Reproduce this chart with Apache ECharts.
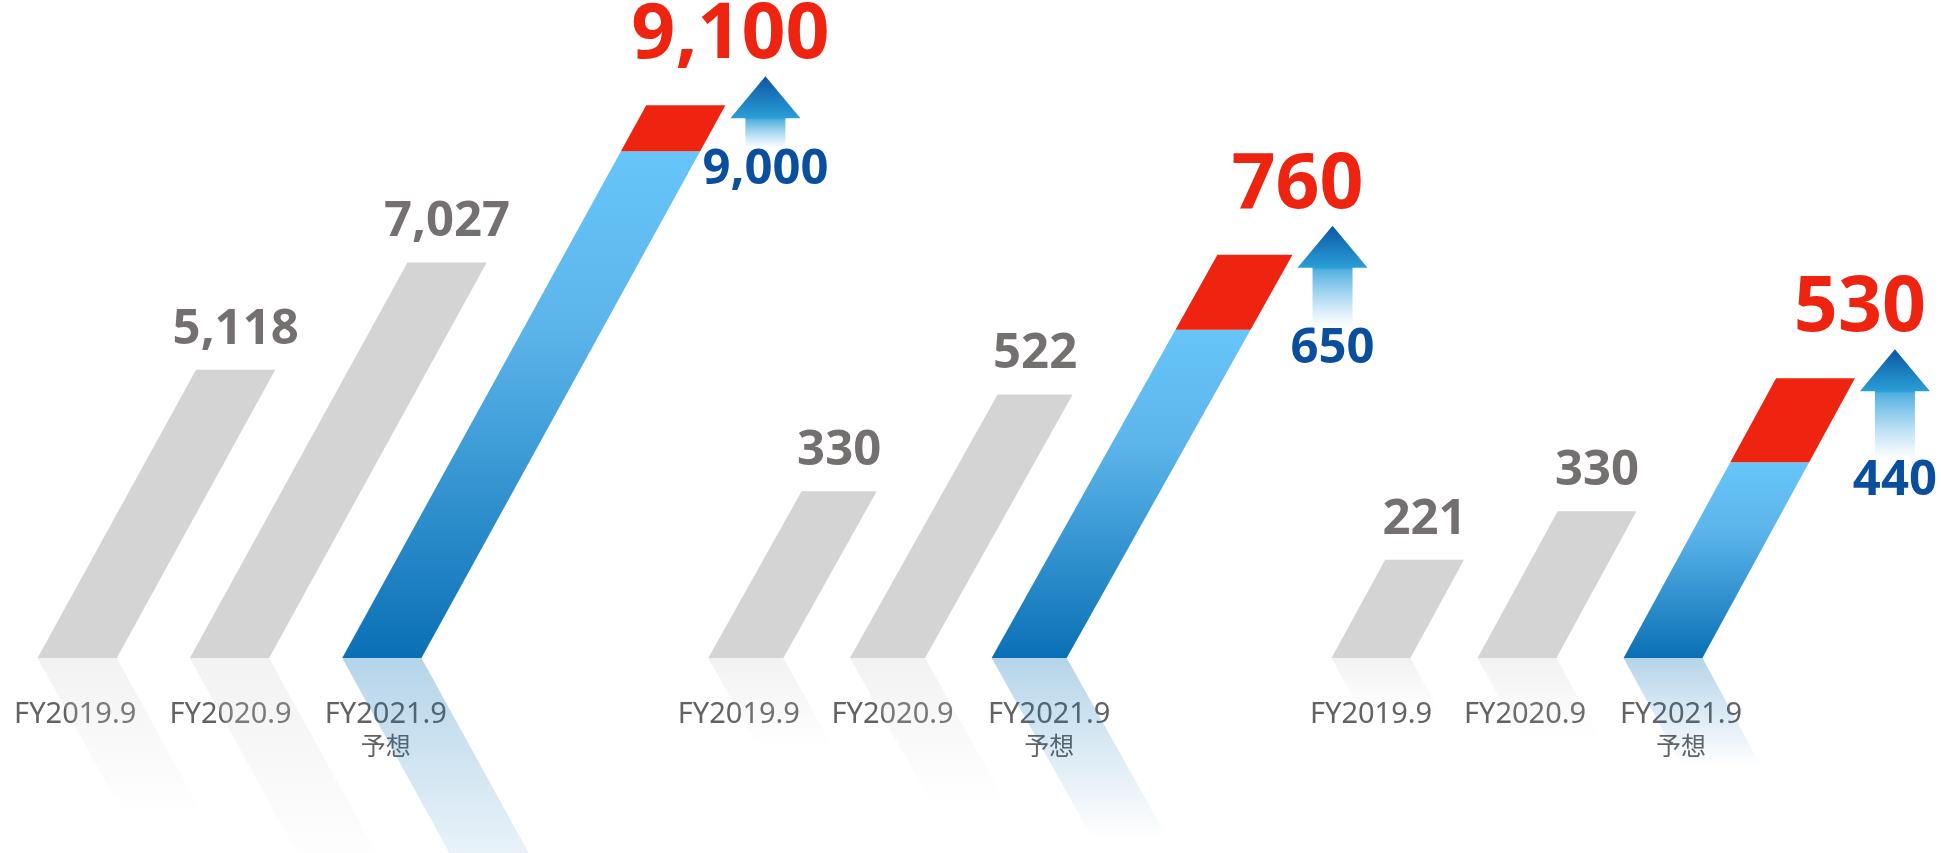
<!DOCTYPE html>
<html>
<head>
<meta charset="utf-8">
<title>業績推移</title>
<script src="https://cdn.jsdelivr.net/npm/echarts@6/dist/echarts.min.js"></script>
<style>
  html, body { margin: 0; padding: 0; background: #fff; }
  #chart { width: 1941px; height: 853px; }
</style>
</head>
<body>
<div id="chart"></div>
<script>
// 決算期
var categories = ['FY2019.9', 'FY2020.9', 'FY2021.9'];
var forecastNote = '予想';

// 左: 実績2期 + 期初計画, 予想
var sales = [5118, 7027, 9000];
var salesForecast = 9100;
// 中央
var profit = [330, 522, 650];
var profitForecast = 760;
// 右
var netProfit = [221, 330, 440];
var netForecast = 530;

var FONT = "'Noto Sans', 'Noto Sans CJK JP', sans-serif";

var fmt = function (v) {
    return v.toLocaleString('en-US');
};

// パネルごとの配置 (見た目だけ)
var panels = [
    { values: sales, forecast: salesForecast, max: 10000, slant: 0.55, cap: 46, barW: 0.52,
      labelShift: [-2, 1, 4],
      grid: { left: 1, width: 457, top: 95, bottom: 195 } },
    { values: profit, forecast: profitForecast, max: 1000, slant: 0.56, cap: 75, barW: 0.53,
      labelShift: [-7, 5, 20],
      grid: { left: 675, width: 425, top: 153, bottom: 195 } },
    { values: netProfit, forecast: netForecast, max: 1000, slant: 0.545, cap: 84, barW: 0.54,
      labelShift: [0, 8, 18],
      grid: { left: 1298, width: 438, top: 213, bottom: 195 } }
];

var grad = function (stops) {
    return new echarts.graphic.LinearGradient(0, 0, 0, 1, stops.map(function (s) {
        return { offset: s[0], color: s[1] };
    }));
};

var makeRender = function (panel) {
    return function (params, api) {
        var i = api.value(0);
        var v = api.value(1);
        var base = api.coord([i, 0]);
        var top = api.coord([i, v]);
        var w = api.size([1, 0])[0] * panel.barW;
        var h = base[1] - top[1];
        var s = panel.slant;
        var x0 = base[0] - w / 2;
        var y0 = base[1];
        var isFc = i === panel.values.length - 1;
        var children = [];

        // 反射
        var rh = h * 0.55;
        var rc = isFc ? '10,114,184' : '212,212,212';
        children.push({
            type: 'polygon',
            shape: { points: [[x0, y0], [x0 + w, y0], [x0 + w + rh * s, y0 + rh], [x0 + rh * s, y0 + rh]] },
            style: { fill: grad([[0, 'rgba(' + rc + ',0.3)'], [1, 'rgba(' + rc + ',0)']]) }
        });

        var tl = [x0 + h * s, top[1]];
        var tr = [x0 + w + h * s, top[1]];
        children.push({
            type: 'polygon',
            shape: { points: [[x0, y0], [x0 + w, y0], tr, tl] },
            style: { fill: isFc ? grad([[0, '#67c5f9'], [0.35, '#5cb5ea'], [1, '#0a70b5']]) : '#d4d4d4' }
        });

        if (!isFc) {
            children.push({
                type: 'text',
                style: {
                    text: fmt(v), x: (tl[0] + tr[0]) / 2, y: top[1] - 40,
                    align: 'center', verticalAlign: 'middle',
                    font: 'bold 49px ' + FONT, fill: '#757070'
                }
            });
            return { type: 'group', children: children };
        }

        // 予想の上乗せ分
        var c = panel.cap;
        var redTop = top[1] - c;
        children.push({
            type: 'polygon',
            shape: { points: [tl, tr, [tr[0] + c * s, redTop], [tl[0] + c * s, redTop]] },
            style: { fill: '#ee2310' }
        });

        // 矢印
        var ax = tr[0] + c * s + 40;
        var tipY = redTop - 29;
        var headY = redTop + 13;
        var botY = top[1] - 3;
        var f = (headY - tipY) / (botY - tipY);
        children.push({
            type: 'polygon',
            shape: { points: [[ax, tipY], [ax + 35, headY], [ax + 20, headY], [ax + 20, botY],
                              [ax - 20, botY], [ax - 20, headY], [ax - 35, headY]] },
            style: { fill: grad([[0, '#0c56a4'], [f, '#2a9fd6'], [f + 0.02, '#52b0e0'], [1, 'rgba(120,195,235,0)']]) }
        });

        children.push({
            type: 'text',
            style: {
                text: fmt(panel.forecast), x: ax - 35, y: redTop - 69,
                align: 'center', verticalAlign: 'middle',
                font: 'bold 77px ' + FONT, fill: '#ee2310'
            }
        });
        children.push({
            type: 'text',
            style: {
                text: fmt(v), x: ax, y: top[1] + 19,
                align: 'center', verticalAlign: 'middle',
                font: 'bold 49px ' + FONT, fill: '#0a4f9e'
            }
        });
        return { type: 'group', children: children };
    };
};

// 軸ラベルの位置ずらし用 rich スタイル
var labelRich = function (shifts) {
    var rich = {};
    shifts.forEach(function (d, k) {
        var pad = d >= 0 ? [0, 0, 0, 2 * d] : [0, -2 * d, 0, 0];
        rich['a' + k] = { fontSize: 29, lineHeight: 33, color: '#626262', fontFamily: FONT, padding: pad };
        rich['b' + k] = { fontSize: 25, lineHeight: 33, color: '#626262', fontFamily: FONT, padding: pad };
    });
    return rich;
};

var option = {
    animation: false,
    backgroundColor: '#ffffff',
    grid: panels.map(function (p) {
        return Object.assign({ outerBoundsMode: 'none', containLabel: false }, p.grid);
    }),
    xAxis: panels.map(function (p, k) {
        return {
            type: 'category',
            gridIndex: k,
            data: categories,
            axisLine: { show: false },
            axisTick: { show: false },
            axisLabel: {
                margin: 40,
                verticalAlign: 'top',
                interval: 0,
                formatter: function (val, idx) {
                    return idx === categories.length - 1
                        ? '{a' + idx + '|' + val + '}\n{b' + idx + '|' + forecastNote + '}'
                        : '{a' + idx + '|' + val + '}';
                },
                rich: labelRich(p.labelShift)
            }
        };
    }),
    yAxis: panels.map(function (p, k) {
        return { type: 'value', gridIndex: k, min: 0, max: p.max, show: false };
    }),
    series: panels.map(function (p, k) {
        return {
            type: 'custom',
            xAxisIndex: k,
            yAxisIndex: k,
            clip: false,
            renderItem: makeRender(p),
            data: p.values.map(function (v, i) { return [i, v]; })
        };
    })
};

var myChart = echarts.init(document.getElementById('chart'));
myChart.setOption(option);
</script>
</body>
</html>
